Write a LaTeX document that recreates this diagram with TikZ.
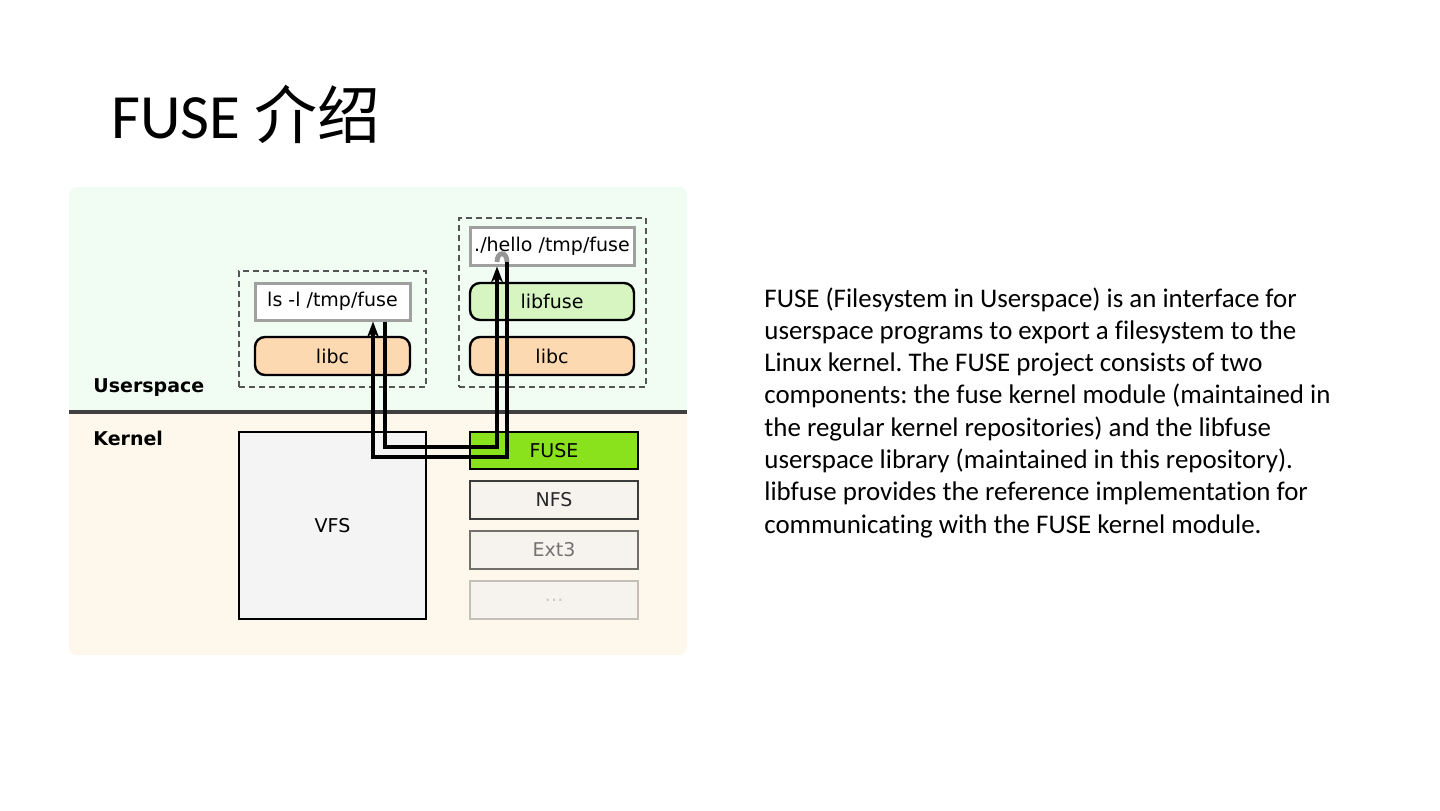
\documentclass[tikz,border=0pt]{standalone}
\usepackage{fontspec}
\setmainfont{Carlito}[Ligatures=NoCommon]
\newfontfamily\dejavu{DejaVu Sans}
\newfontfamily\cjk{Noto Sans CJK SC}
\usetikzlibrary{arrows.meta}
\definecolor{userbg}{RGB}{241,252,243}
\definecolor{kernbg}{RGB}{254,248,236}
\definecolor{sepc}{RGB}{64,64,64}
\definecolor{peach}{RGB}{252,217,176}
\definecolor{lgreen}{RGB}{215,245,192}
\definecolor{fgreen}{RGB}{138,226,28}
\definecolor{vfsfill}{RGB}{244,244,244}
\definecolor{fsfill}{RGB}{246,243,239}
\definecolor{dashc}{RGB}{85,85,85}
\definecolor{plainc}{RGB}{160,160,160}
\frenchspacing
\begin{document}
\begin{tikzpicture}[x=0.5pt,y=-0.5pt,
  dfont/.style={font=\dejavu\fontsize{9.5}{11}\selectfont},
  plainbox/.style={dfont, draw=plainc, line width=1.5pt, fill=white, inner sep=0pt},
  libbox/.style={dfont, draw=black, line width=1.2pt, rounded corners=5pt, inner sep=0pt},
  dashbox/.style={draw=dashc, line width=1pt, dash pattern=on 3pt off 2pt, inner sep=0pt},
  fsbox/.style={dfont, line width=1pt, inner sep=0pt, minimum width=84pt, minimum height=19pt},
  flow/.style={line width=2.4pt, draw=black, miter limit=10, -{Stealth[length=8pt,width=6pt]}},
  para/.style={anchor=base west, inner sep=0pt, font=\fontsize{13.45}{16.15}\selectfont},
  side/.style={anchor=base west, inner sep=0pt, font=\dejavu\bfseries\fontsize{9.5}{11}\selectfont}
]
\useasboundingbox (0,0) rectangle (1440,810);
\fill[white] (0,0) rectangle (1440,810);

% title
\node[anchor=base west, inner sep=0pt, font=\fontsize{31.5}{37}\selectfont] (title) at (111,138.5) {FUSE {\cjk 介绍}};

% diagram background
\begin{scope}
  \clip[rounded corners=4pt] (69,187) rectangle (687,655);
  \fill[userbg] (69,187) rectangle (687,412);
  \fill[kernbg] (69,412) rectangle (687,655);
\end{scope}
\draw[sepc, line width=2pt] (69,412) -- (687,412);

\node[side] (us) at (93,392) {Userspace};
\node[side] (kn) at (93,445) {Kernel};

% dashed process boxes
\node[dashbox, minimum width=93.5pt, minimum height=58pt] (dl) at (332.5,329) {};
\node[dashbox, minimum width=93.5pt, minimum height=84.5pt] (dr) at (552.5,302.5) {};

% userspace boxes
\node[plainbox, minimum width=77.5pt, minimum height=18.5pt] (ls) at (332.5,301.5) {ls -l /tmp/fuse};
\node[libbox, fill=peach, minimum width=77.5pt, minimum height=19pt] (libcl) at (332.5,356) {libc};
\node[plainbox, minimum width=82pt, minimum height=19pt] (hello) at (552,246) {./hello /tmp/fuse};
\node[libbox, fill=lgreen, minimum width=82pt, minimum height=18.5pt] (libfuse) at (552,301.5) {libfuse};
\node[libbox, fill=peach, minimum width=82pt, minimum height=19pt] (libcr) at (552,356) {libc};

% kernel boxes
\node[dfont, draw=black, line width=1pt, fill=vfsfill, minimum width=93.5pt, minimum height=93.5pt, inner sep=0pt] (vfs) at (332.5,525.5) {VFS};
\node[fsbox, draw=black, fill=fgreen, minimum height=18.5pt] (fuse) at (554,450.5) {FUSE};
\node[fsbox, draw={rgb,255:red,60;green,60;blue,60}, fill=fsfill, text={rgb,255:red,40;green,40;blue,40}] (nfs) at (554,500) {NFS};
\node[fsbox, draw={rgb,255:red,115;green,111;blue,105}, fill=fsfill, text={rgb,255:red,115;green,115;blue,115}] (ext3) at (554,550) {Ext3};
\node[fsbox, draw={rgb,255:red,196;green,192;blue,184}, fill=fsfill, text={rgb,255:red,200;green,200;blue,200}] (dots) at (554,600) {\dots};

% flow lines
\coordinate (a1) at (385,447);
\coordinate (a2) at (497,447);
\coordinate (b1) at (507,457);
\coordinate (b2) at (373,457);
\coordinate (u1) at (497,262);
\coordinate (u2) at (507,262);
\draw[flow] (ls.south -| a1) -- (a1) -- (a2) -- (hello.south -| a2);
\draw[line width=2.4pt, draw={rgb,255:red,150;green,150;blue,150}] (u1) .. controls (497,251) and (507,251) .. (u2);
\draw[flow] (u2) -- (b1) -- (b2) -- (ls.south -| b2);

% paragraph
\node[para] (p1) at (764,307) {FUSE (Filesystem in Userspace) is an interface for};
\node[para] (p2) at (764,339.3) {userspace programs to export a filesystem to the};
\node[para] (p3) at (764,371.6) {Linux kernel. The FUSE project consists of two};
\node[para] (p4) at (764,403.9) {components: the fuse kernel module (maintained in};
\node[para] (p5) at (764,436.2) {the regular kernel repositories) and the libfuse};
\node[para] (p6) at (764,468.5) {userspace library (maintained in this repository).};
\node[para] (p7) at (764,500.8) {libfuse provides the reference implementation for};
\node[para] (p8) at (764,533.1) {communicating with the FUSE kernel module.};
\end{tikzpicture}
\end{document}
